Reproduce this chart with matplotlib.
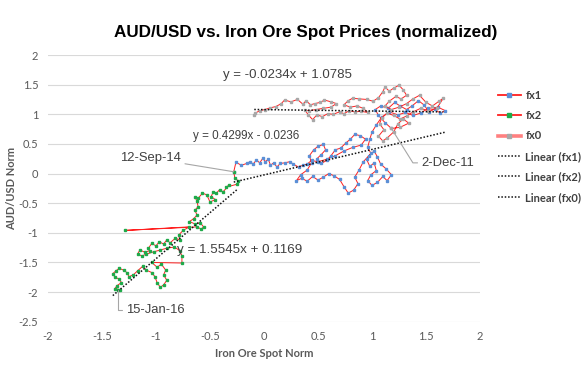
import numpy as np
import matplotlib
matplotlib.use('Agg')
import matplotlib.pyplot as plt
from matplotlib.lines import Line2D

# fx0 : weekly points up to 2-Dec-11 (upper cluster)
fx0_x = [-0.09, -0.08, -0.04, 0.01, 0.06, 0.11, 0.16, 0.19, 0.25, 0.31, 0.36, 0.39, 0.43, 0.47,
         0.52, 0.56, 0.62, 0.67, 0.62, 0.55, 0.48, 0.42, 0.38, 0.41, 0.45, 0.49, 0.54, 0.59,
         0.64, 0.70, 0.74, 0.79, 0.84, 0.90, 0.96, 0.92, 0.86, 0.80, 0.74, 0.78, 0.82, 0.88,
         0.95, 1.01, 1.06, 1.10, 1.12, 1.16, 1.20, 1.25, 1.29, 1.32, 1.27, 1.22, 1.16, 1.12,
         1.18, 1.25, 1.32, 1.38, 1.44, 1.50, 1.56, 1.62, 1.66, 1.60, 1.52, 1.45, 1.38, 1.32,
         1.26, 1.20, 1.14, 1.09, 1.07, 1.11, 1.06, 1.10, 1.14, 1.20, 1.24, 1.29, 1.34, 1.26, 1.18]
fx0_y = [0.98, 1.02, 1.06, 1.08, 1.11, 1.13, 1.18, 1.24, 1.21, 1.25, 1.17, 1.23, 1.16, 1.18,
         1.20, 1.24, 1.21, 1.18, 1.12, 1.10, 1.08, 1.06, 1.07, 0.99, 0.91, 0.99, 0.96, 1.01,
         1.00, 1.04, 1.01, 1.06, 1.04, 1.05, 1.03, 1.10, 1.14, 1.12, 1.16, 1.23, 1.27, 1.26,
         1.25, 1.22, 1.28, 1.38, 1.46, 1.39, 1.44, 1.49, 1.41, 1.32, 1.26, 1.30, 1.22, 1.14,
         1.08, 1.12, 1.18, 1.26, 1.32, 1.20, 1.14, 1.22, 1.27, 1.10, 1.06, 1.10, 1.04, 0.97,
         0.92, 0.98, 1.02, 0.94, 0.84, 0.74, 0.63, 0.55, 0.60, 0.70, 0.84, 0.92, 0.85, 0.78, 0.76]

# fx1 : 2-Dec-11 to 12-Sep-14 (middle cluster)
fx1_x = [1.18, 1.12, 1.06, 1.03, 1.08, 1.15, 1.21, 1.26, 1.32, 1.37, 1.43, 1.48, 1.53, 1.58,
         1.63, 1.68, 1.61, 1.52, 1.45, 1.38, 1.31, 1.24, 1.16, 1.09, 1.04, 1.00, 0.98, 0.96,
         0.99, 0.95, 0.98, 1.02, 1.04, 0.99, 0.96, 1.00, 1.05, 1.10, 1.14, 1.18, 1.13, 1.08,
         1.05, 1.02, 0.97, 0.92, 0.88, 0.84, 0.87, 0.83, 0.78, 0.74, 0.70, 0.65, 0.60, 0.55,
         0.50, 0.45, 0.40, 0.35, 0.30, 0.34, 0.40, 0.44, 0.42, 0.46, 0.50, 0.55, 0.57, 0.53,
         0.49, 0.53, 0.58, 0.62, 0.66, 0.71, 0.76, 0.80, 0.84, 0.89, 0.94, 0.90, 0.82, 0.74,
         0.66, 0.58, 0.50, 0.44, 0.40, 0.36, 0.32, 0.27, 0.24, 0.19, 0.15, 0.12, 0.09, 0.06,
         0.04, 0.01, -0.01, -0.04, -0.07, -0.10, -0.13, -0.16, -0.21, -0.26, -0.28]
fx1_y = [0.76, 0.86, 0.98, 1.08, 1.14, 1.10, 1.20, 1.14, 1.08, 1.14, 1.23, 1.16, 1.04, 1.09,
         1.02, 1.06, 1.12, 1.10, 1.02, 0.98, 1.03, 0.99, 1.04, 0.95, 0.82, 0.70, 0.58, 0.44,
         0.34, 0.24, 0.12, 0.18, 0.05, -0.02, -0.12, -0.20, -0.15, -0.05, -0.12, -0.02, 0.08, 0.16,
         0.28, 0.38, 0.30, 0.20, 0.06, -0.06, -0.17, -0.28, -0.33, -0.22, -0.10, -0.04, 0.00, -0.06,
         -0.11, -0.05, -0.13, -0.08, -0.12, -0.02, 0.06, 0.18, 0.30, 0.40, 0.46, 0.49, 0.40, 0.32,
         0.25, 0.17, 0.22, 0.30, 0.40, 0.43, 0.52, 0.58, 0.66, 0.64, 0.58, 0.48, 0.44, 0.38,
         0.30, 0.24, 0.20, 0.22, 0.16, 0.14, 0.11, 0.16, 0.20, 0.18, 0.17, 0.11, 0.18, 0.14,
         0.24, 0.20, 0.26, 0.18, 0.23, 0.16, 0.20, 0.17, 0.14, 0.19, 0.03]

# fx2 : 12-Sep-14 to 15-Jan-16 (lower left)
fx2_x = [-0.28, -0.27, -0.24, -0.25, -0.35, -0.32, -0.38, -0.41, -0.44, -0.47, -0.49, -0.45,
         -0.50, -0.53, -0.57, -0.61, -0.64, -0.62, -0.61, -0.64, -0.62, -0.65, -0.69, -0.64,
         -0.59, -0.56, -0.58, -0.62, -1.29, -0.69, -0.75, -0.79, -0.78, -0.82, -0.87, -0.90,
         -0.93, -0.97, -1.00, -1.04, -1.07, -1.06, -1.10, -1.15, -1.17, -1.13, -1.09, -1.02,
         -0.96, -0.90, -0.83, -0.78, -0.76, -0.76, -1.04, -0.99, -0.95, -0.91, -0.93, -0.90,
         -0.93, -0.96, -0.99, -1.01, -1.04, -1.09, -1.12, -1.17, -1.21, -1.25, -1.27, -1.30,
         -1.34, -1.37, -1.40, -1.38, -1.34, -1.32, -1.36, -1.38, -1.33, -1.35]
fx2_y = [0.03, -0.08, -0.12, -0.18, -0.23, -0.19, -0.31, -0.27, -0.33, -0.31, -0.39, -0.44,
         -0.48, -0.36, -0.33, -0.42, -0.39, -0.47, -0.56, -0.62, -0.70, -0.76, -0.81, -0.85,
         -0.83, -0.90, -0.94, -0.90, -0.96, -0.90, -0.96, -1.04, -1.12, -1.09, -1.17, -1.12,
         -1.19, -1.15, -1.22, -1.18, -1.26, -1.30, -1.33, -1.29, -1.36, -1.39, -1.36, -1.32,
         -1.29, -1.26, -1.24, -1.30, -1.39, -1.51, -1.50, -1.58, -1.53, -1.63, -1.71, -1.80,
         -1.88, -1.92, -1.84, -1.74, -1.67, -1.63, -1.56, -1.64, -1.71, -1.74, -1.67, -1.63,
         -1.60, -1.64, -1.69, -1.75, -1.78, -1.84, -1.89, -1.94, -1.96, -1.97]

# Excel linear trendlines (coefficients as printed on the chart)
trend_slope = {'fx1': 0.4299, 'fx2': 1.5545, 'fx0': -0.0234}
trend_icpt = {'fx1': -0.0236, 'fx2': 0.1169, 'fx0': 1.0785}
trend_label = {'fx1': 'y = 0.4299x - 0.0236',
               'fx2': 'y = 1.5545x + 0.1169',
               'fx0': 'y = -0.0234x + 1.0785'}

series = {'fx1': (fx1_x, fx1_y), 'fx2': (fx2_x, fx2_y), 'fx0': (fx0_x, fx0_y)}
marker_col = {'fx1': '#5B8FD6', 'fx2': '#1FAA4A', 'fx0': '#A8A8A8'}

plt.rcParams['font.family'] = ['Lato', 'DejaVu Sans']

fig = plt.figure(figsize=(5.84, 3.78), dpi=100)
ax = fig.add_axes([48/584, 56.3/378, 432/584, 266.7/378])

for name in ['fx1', 'fx2', 'fx0']:
    xs, ys = series[name]
    ax.plot(xs, ys, color='#FF1F1F', lw=0.7, marker='s', ms=1.8,
            mfc=marker_col[name], mec=marker_col[name], zorder=3)

for name in ['fx1', 'fx2', 'fx0']:
    xs = np.array(series[name][0])
    tx = np.array([xs.min(), xs.max()])
    ax.plot(tx, trend_slope[name]*tx + trend_icpt[name], color='#111111',
            lw=1.1, ls=(0, (1, 1.2)), zorder=4)

eq_font = dict(family='Liberation Sans', color='#404040')
ax.text(0.22, 1.67, trend_label['fx0'], ha='center', va='center', fontsize=9.5, **eq_font)
ax.text(-0.17, 0.63, trend_label['fx1'], ha='center', va='center', fontsize=8.4, **eq_font)
ax.text(-0.23, -1.29, trend_label['fx2'], ha='center', va='center', fontsize=9.6, **eq_font)

lead = dict(arrowstyle='-', color='#A6A6A6', lw=0.8, shrinkA=1, shrinkB=0)
ax.annotate('2-Dec-11', xy=(fx0_x[-1], fx0_y[-1]), xytext=(1.46, 0.18),
            ha='left', va='center', fontsize=9.4, zorder=5, **eq_font,
            arrowprops=dict(connectionstyle='angle,angleA=0,angleB=122,rad=0', **lead))
ax.annotate('12-Sep-14', xy=(fx2_x[0], fx2_y[0]), xytext=(-0.77, 0.26),
            ha='right', va='center', fontsize=9.4, zorder=5, **eq_font,
            arrowprops=dict(**lead))
ax.annotate('15-Jan-16', xy=(fx2_x[-1], fx2_y[-1]), xytext=(-1.28, -2.31),
            ha='left', va='center', fontsize=9.4, zorder=5, **eq_font,
            arrowprops=dict(connectionstyle='angle,angleA=0,angleB=90,rad=0', **lead))

ax.set_xlim(-2, 2)
ax.set_ylim(-2.5, 2)
ax.set_xticks(np.arange(-2, 2.01, 0.5))
ax.set_yticks(np.arange(-2.5, 2.01, 0.5))
ax.set_xticklabels([f'{v:g}' for v in np.arange(-2, 2.01, 0.5)])
ax.set_yticklabels([f'{v:g}' for v in np.arange(-2.5, 2.01, 0.5)])
ax.yaxis.grid(True, color='#D9D9D9', lw=0.8)
ax.set_axisbelow(True)
for s in ax.spines.values():
    s.set_visible(False)
ax.tick_params(length=0, labelsize=8, labelcolor='#595959')
ax.tick_params(axis='x', pad=7)
ax.tick_params(axis='y', pad=7)

ax.set_xlabel('Iron Ore Spot Norm', fontsize=8, fontweight='bold', color='#595959', labelpad=4)
ax.set_ylabel('AUD/USD Norm', fontsize=8, fontweight='bold', color='#595959', labelpad=1)

fig.text(306/584, 1 - 33/378, 'AUD/USD vs. Iron Ore Spot Prices (normalized)', ha='center',
         va='center', fontsize=12.3, fontweight='bold', family='Liberation Sans', color='#000000')

handles = [
    Line2D([], [], color='#FF1F1F', lw=1.3, marker='s', ms=2.5, mfc=marker_col['fx1'], mec=marker_col['fx1']),
    Line2D([], [], color='#FF1F1F', lw=1.3, marker='s', ms=2.5, mfc=marker_col['fx2'], mec=marker_col['fx2']),
    Line2D([], [], color='#FF8080', lw=2.6, marker='s', ms=2.5, mfc=marker_col['fx0'], mec=marker_col['fx0']),
    Line2D([], [], color='#111111', lw=1.1, ls=(0, (1, 1.2))),
    Line2D([], [], color='#111111', lw=1.1, ls=(0, (1, 1.2))),
    Line2D([], [], color='#111111', lw=1.1, ls=(0, (1, 1.2))),
]
labels = ['fx1', 'fx2', 'fx0', 'Linear (fx1)', 'Linear (fx2)', 'Linear (fx0)']
fig.legend(handles, labels, loc='upper left', bbox_to_anchor=(492/584, 1 - 84/378),
           frameon=False, borderpad=0, handlelength=2.1, handletextpad=0.4, labelspacing=0.85,
           prop=dict(family='Lato', weight='bold', size=8), labelcolor='#404040')

fig.savefig('out.png', dpi=100)
